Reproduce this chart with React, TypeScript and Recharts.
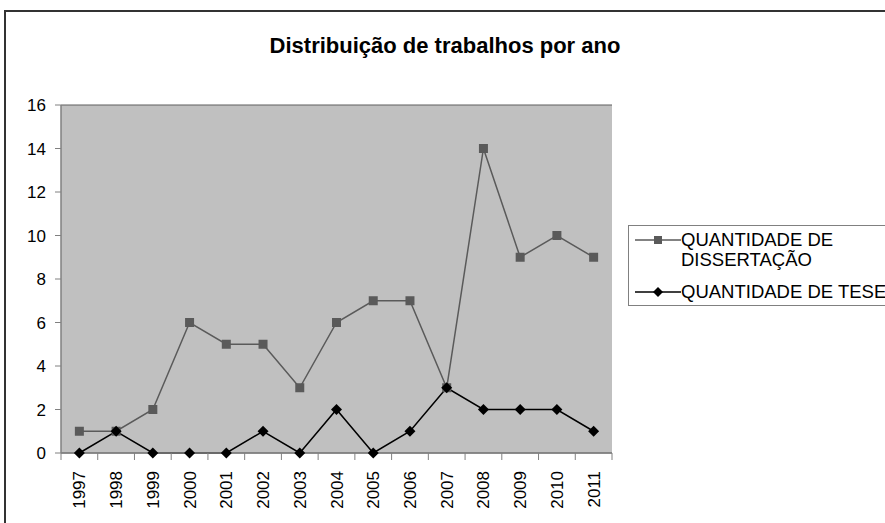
import React from 'react';
import { LineChart, Line, XAxis, YAxis, CartesianGrid, Legend } from 'recharts';

const years = ['1997', '1998', '1999', '2000', '2001', '2002', '2003', '2004', '2005', '2006', '2007', '2008', '2009', '2010', '2011'];
const dissertacao = [1, 1, 2, 6, 5, 5, 3, 6, 7, 7, 3, 14, 9, 10, 9];
const tese = [0, 1, 0, 0, 0, 1, 0, 2, 0, 1, 3, 2, 2, 2, 1];
const yTicks = [0, 2, 4, 6, 8, 10, 12, 14, 16];

const data = years.map((y, i) => ({ ano: y, dissertacao: dissertacao[i], tese: tese[i] }));

const FONT = '"Liberation Sans", Arial, sans-serif';
const W = 885;
const H = 523;
const PLOT_LEFT = 61;
const PLOT_RIGHT = 612;
const PLOT_TOP = 105;
const PLOT_BOTTOM = 453;
const BAND = (PLOT_RIGHT - PLOT_LEFT) / years.length;
const AXIS_GRAY = '#808080';
const GRID = '#5e5e5e';

const SquareDot = (p: any) => {
  const { cx, cy } = p;
  if (cx == null || cy == null) return null;
  return <rect key={`s${p.index}`} x={cx - 4.5} y={cy - 4.5} width={9} height={9} fill="#5a5a5a" />;
};

const DiamondDot = (p: any) => {
  const { cx, cy } = p;
  if (cx == null || cy == null) return null;
  return (
    <polygon
      key={`d${p.index}`}
      points={`${cx},${cy - 5.5} ${cx + 5.5},${cy} ${cx},${cy + 5.5} ${cx - 5.5},${cy}`}
      fill="#000"
    />
  );
};

const YearTick = (p: any) => {
  const { x, y, payload, index } = p;
  const last = index === years.length - 1;
  return (
    <g>
      <line x1={x - BAND / 2} y1={y} x2={x - BAND / 2} y2={y + 7} stroke={AXIS_GRAY} />
      {last && <line x1={x + BAND / 2} y1={y} x2={x + BAND / 2} y2={y + 7} stroke={AXIS_GRAY} />}
      <text
        x={0}
        y={0}
        transform={`translate(${x + 6},${y + 18}) rotate(-90)`}
        textAnchor="end"
        fontSize={17}
        fontFamily={FONT}
        fill="#000"
      >
        {payload.value}
      </text>
    </g>
  );
};

const LegendBox = () => (
  <div
    style={{
      border: '1px solid #808080',
      background: '#fff',
      width: 290,
      height: 81,
      boxSizing: 'border-box',
      padding: '4px 0 0 6px',
      fontFamily: FONT,
      fontSize: 18.5,
      color: '#000',
      lineHeight: '20px',
    }}
  >
    <div style={{ display: 'flex', alignItems: 'flex-start' }}>
      <svg width={46} height={20} style={{ flex: 'none' }}>
        <line x1={0} y1={10} x2={46} y2={10} stroke="#5a5a5a" strokeWidth={1.5} />
        <rect x={19} y={6} width={8} height={8} fill="#5a5a5a" />
      </svg>
      <span>QUANTIDADE DE<br />DISSERTAÇÃO</span>
    </div>
    <div style={{ display: 'flex', alignItems: 'flex-start', marginTop: 12, whiteSpace: 'nowrap' }}>
      <svg width={46} height={20} style={{ flex: 'none' }}>
        <line x1={0} y1={10} x2={46} y2={10} stroke="#000" strokeWidth={1.5} />
        <polygon points="23,5 28,10 23,15 18,10" fill="#000" />
      </svg>
      <span>QUANTIDADE DE TESE</span>
    </div>
  </div>
);

export default function App() {
  return (
    <div style={{ position: 'fixed', left: 0, top: 0, width: W, height: H, overflow: 'hidden', background: '#fff' }}>
      <div
        style={{
          position: 'absolute',
          left: 4,
          top: 10,
          width: 920,
          height: 560,
          border: '2px solid #333',
          boxSizing: 'border-box',
        }}
      />
      <div
        style={{
          position: 'absolute',
          left: 0,
          top: 33,
          width: 890,
          textAlign: 'center',
          fontFamily: FONT,
          fontWeight: 'bold',
          fontSize: 22,
          color: '#000',
        }}
      >
        Distribuição de trabalhos por ano
      </div>
      <div style={{ position: 'absolute', left: 0, top: 0 }}>
        <LineChart
          width={W}
          height={H}
          data={data}
          margin={{ top: PLOT_TOP, right: W - PLOT_RIGHT, left: PLOT_LEFT - 40, bottom: H - PLOT_BOTTOM - 60 }}
        >
          <CartesianGrid
            vertical={false}
            stroke={GRID}
            strokeWidth={1.2}
            fill="#c0c0c0"
            fillOpacity={1}
          />
          <XAxis
            dataKey="ano"
            interval={0}
            height={60}
            padding={{ left: BAND / 2, right: BAND / 2 }}
            axisLine={{ stroke: AXIS_GRAY, strokeWidth: 1.5 }}
            tickLine={false}
            tickSize={0}
            tickMargin={0}
            tick={<YearTick />}
          />
          <YAxis
            yAxisId="left"
            domain={[0, 16]}
            ticks={yTicks}
            width={40}
            axisLine={{ stroke: AXIS_GRAY, strokeWidth: 1.5 }}
            tickLine={{ stroke: AXIS_GRAY }}
            tickSize={6}
            tickMargin={9}
            tick={{ fill: '#000', fontSize: 17, fontFamily: FONT }}
          />
          <YAxis
            yAxisId="right"
            orientation="right"
            domain={[0, 16]}
            width={0}
            tick={false}
            tickLine={false}
            axisLine={{ stroke: AXIS_GRAY, strokeWidth: 2 }}
          />
          <Legend
            content={<LegendBox />}
            layout="vertical"
            align="center"
            verticalAlign="middle"
            wrapperStyle={{ left: 628, top: 225, width: 290 }}
          />
          <Line
            yAxisId="left"
            dataKey="dissertacao"
            name="QUANTIDADE DE DISSERTAÇÃO"
            stroke="#5a5a5a"
            strokeWidth={1.5}
            dot={SquareDot}
            isAnimationActive={false}
          />
          <Line
            yAxisId="left"
            dataKey="tese"
            name="QUANTIDADE DE TESE"
            stroke="#000"
            strokeWidth={1.5}
            dot={DiamondDot}
            isAnimationActive={false}
          />
        </LineChart>
      </div>
    </div>
  );
}
